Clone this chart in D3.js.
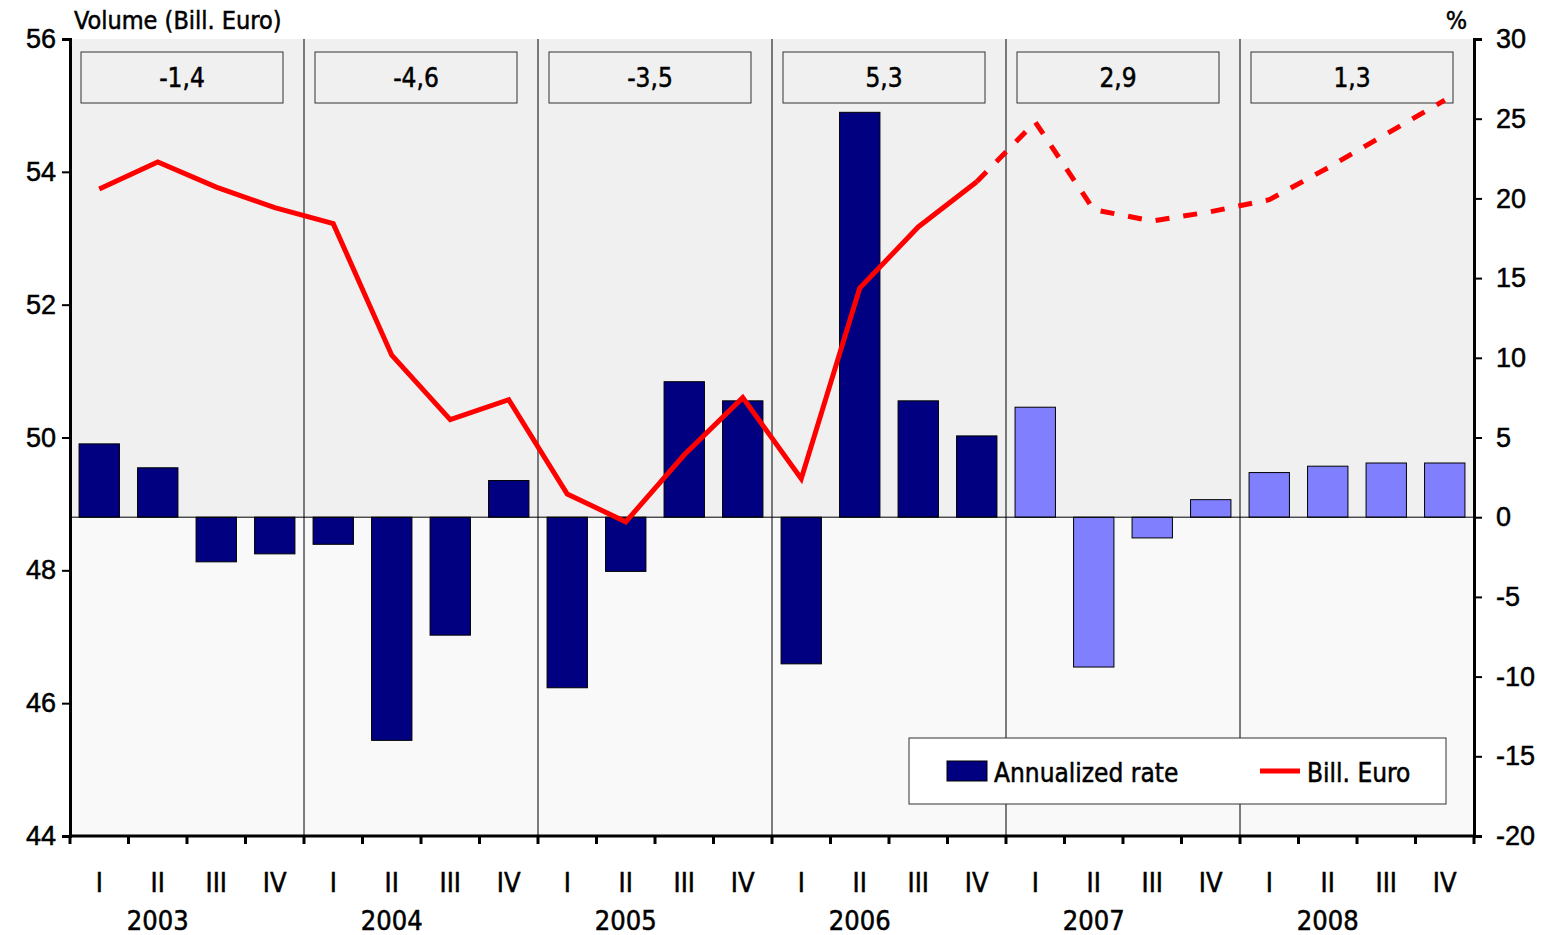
<!DOCTYPE html>
<html><head><meta charset="utf-8">
<script src="https://cdn.jsdelivr.net/npm/d3@7"></script>
<style>
body{margin:0;background:#fff;font-family:"DejaVu Sans Condensed","DejaVu Sans",sans-serif;}
text{stroke:#000;stroke-width:0.5px;}
</style></head><body>
<svg id="c" width="1557" height="935"></svg>
<script>
const years = ["2003","2004","2005","2006","2007","2008"];
const quarters = ["I","II","III","IV"];
const annual = ["-1,4","-4,6","-3,5","5,3","2,9","1,3"];
const rates = [4.6,3.1,-2.8,-2.3, -1.7,-14.0,-7.4,2.3, -10.7,-3.4,8.5,7.3, -9.2,25.4,7.3,5.1, 6.9,-9.4,-1.3,1.1, 2.8,3.2,3.4,3.4];
const volume = [53.74,54.15,53.77,53.46, 53.22,51.24,50.27,50.57, 49.15,48.73,49.74,50.6, 49.38,52.25,53.17,53.85, 54.75,53.43,53.26,53.4, 53.58,54.06,54.57,55.08];
const forecastFrom = 16; // 2007 I onward is forecast

const svg = d3.select("#c");
const L=70,R=1474,T=39,B=836;
const keys = d3.range(24);
const x = d3.scaleBand().domain(keys).range([L,R]).paddingInner(0.31).paddingOuter(0.155);
const yL = d3.scaleLinear().domain([44,56]).range([B,T]);
const yR = d3.scaleLinear().domain([-20,30]).range([B,T]);
const step = (R-L)/24;
const cx = i => L + step*(i+0.5);

svg.append("rect").attr("x",L).attr("y",T).attr("width",R-L).attr("height",yR(0)-T).attr("fill","#f0f0f0");
svg.append("rect").attr("x",L).attr("y",yR(0)).attr("width",R-L).attr("height",B-yR(0)).attr("fill","#f9f9f9");

years.slice(1).forEach((y,i)=>{
  const xx=L+step*4*(i+1);
  svg.append("line").attr("x1",xx).attr("x2",xx).attr("y1",T).attr("y2",B).attr("stroke","#000").attr("stroke-width",1);
});

years.forEach((y,i)=>{
  const x0=L+step*4*i;
  svg.append("rect").attr("x",x0+11).attr("y",52).attr("width",step*4-32).attr("height",51)
    .attr("fill","#f0f0f0").attr("stroke","#333").attr("stroke-width",1);
  svg.append("text").attr("x",x0+11+(step*4-32)/2).attr("y",87).attr("text-anchor","middle").attr("font-size",26).text(annual[i]);
});

svg.append("g").selectAll("rect").data(rates).join("rect")
  .attr("x",(d,i)=>x(i)).attr("width",x.bandwidth())
  .attr("y",d=>yR(Math.max(0,d))).attr("height",d=>Math.abs(yR(d)-yR(0)))
  .attr("fill",(d,i)=>i<forecastFrom?"#000080":"#8080ff").attr("stroke","#000").attr("stroke-width",1);
svg.append("line").attr("x1",L).attr("x2",R).attr("y1",yR(0)).attr("y2",yR(0)).attr("stroke","#000").attr("stroke-width",1);

const line = d3.line().x(d=>cx(d.i)).y(d=>yL(d.v));
const pts = volume.map((v,i)=>({v,i}));
svg.append("path").attr("d",line(pts.slice(0,forecastFrom))).attr("fill","none").attr("stroke","#ff0000").attr("stroke-width",5);
svg.append("path").attr("d",line(pts.slice(forecastFrom-1))).attr("fill","none").attr("stroke","#ff0000").attr("stroke-width",5).attr("stroke-dasharray","14,14");

const fs=27;
const fmt = d => String(d);
const gl=svg.append("g").attr("transform",`translate(${L},0)`).call(d3.axisLeft(yL).tickValues(d3.range(44,57,2)).tickSize(8).tickFormat(fmt));
const gr=svg.append("g").attr("transform",`translate(${R},0)`).call(d3.axisRight(yR).tickValues(d3.range(-20,31,5)).tickSize(8).tickFormat(fmt));
[gl,gr].forEach(g=>{g.selectAll("text").attr("font-size",fs).attr("font-family","inherit").attr("fill","#000");
  g.select(".domain").attr("stroke-width",3);g.selectAll(".tick line").attr("stroke-width",2);});
gl.selectAll("text").attr("x",-14);
gr.selectAll("text").attr("x",22);
svg.append("line").attr("x1",L).attr("x2",R).attr("y1",B).attr("y2",B).attr("stroke","#000").attr("stroke-width",3);
d3.range(25).forEach(i=>{
  svg.append("line").attr("x1",L+step*i).attr("x2",L+step*i).attr("y1",B).attr("y2",B+8).attr("stroke","#000").attr("stroke-width",3);
});
keys.forEach(i=>{
  svg.append("text").attr("x",cx(i)).attr("y",892).attr("text-anchor","middle").attr("font-size",fs).text(quarters[i%4]);
});
years.forEach((y,i)=>{
  svg.append("text").attr("x",cx(4*i+1)).attr("y",930).attr("text-anchor","middle").attr("font-size",fs).text(y);
});
svg.append("text").attr("x",74).attr("y",29).attr("font-size",25).text("Volume (Bill. Euro)");
svg.append("text").attr("x",1467).attr("y",29).attr("text-anchor","end").attr("font-size",25).text("%");

svg.append("rect").attr("x",909).attr("y",738).attr("width",537).attr("height",66).attr("fill","#fff").attr("stroke","#333");
svg.append("rect").attr("x",947).attr("y",761).attr("width",40).attr("height",20).attr("fill","#000080").attr("stroke","#000");
svg.append("text").attr("x",994).attr("y",782).attr("font-size",26).text("Annualized rate");
svg.append("line").attr("x1",1260).attr("x2",1300).attr("y1",771).attr("y2",771).attr("stroke","#ff0000").attr("stroke-width",5);
svg.append("text").attr("x",1307).attr("y",782).attr("font-size",26).text("Bill. Euro");
</script></body></html>
